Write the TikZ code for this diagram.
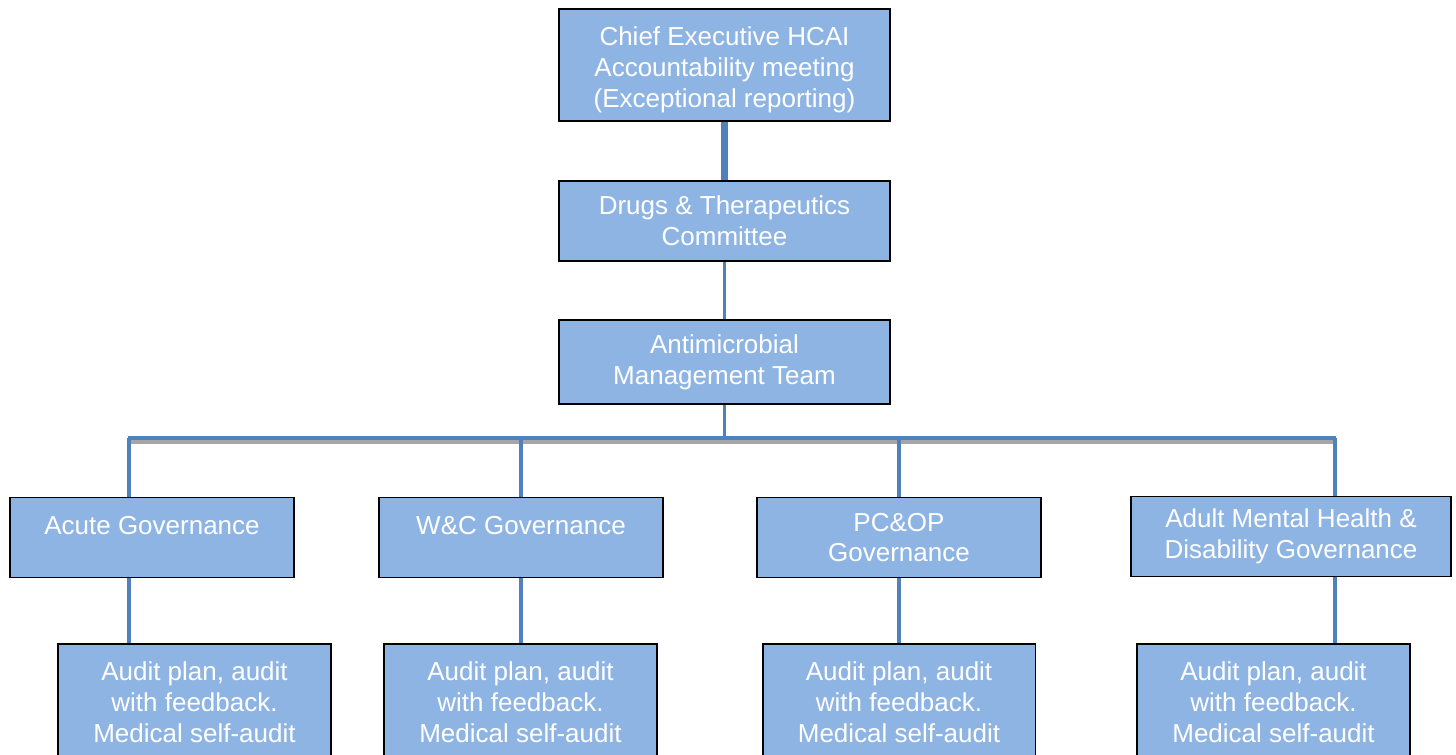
\documentclass[tikz,border=0pt]{standalone}
\usepackage{fontspec}
\setmainfont{Liberation Sans}
\usetikzlibrary{calc}
\definecolor{boxfill}{HTML}{8EB4E3}
\definecolor{linkblue}{HTML}{4F81BD}
\tikzset{
  orgbox/.style={draw=black, line width=1.1pt, fill=boxfill, text=white, align=center,
    font=\fontsize{14.8}{17.6}\selectfont, inner sep=0pt},
  govbox/.style={orgbox, minimum width=5.68cm, minimum height=1.6cm},
  auditbox/.style={orgbox, minimum width=5.46cm, minimum height=2.32cm},
  link/.style={draw=linkblue, line width=2.2pt},
}

\begin{document}
\begin{tikzpicture}[x=0.02cm,y=-0.02cm]
	\useasboundingbox (0,0) rectangle (1456,754);
	\clip (0,0) rectangle (1456,754);
	% chain at the top
	\node[orgbox, minimum width=6.62cm, minimum height=2.24cm] (ceo) at (724.5,65) {\rule{0pt}{16pt}Chief Executive HCAI\\Accountability meeting\\(Exceptional reporting)};
	\node[orgbox, minimum width=6.62cm, minimum height=1.6cm] (dtc) at (724.5,221) {Drugs \& Therapeutics\\Committee};
	\node[orgbox, minimum width=6.62cm, minimum height=1.68cm] (amt) at (724.5,362) {Antimicrobial\\Management Team};
	% governance row
	\node[govbox] (acute) at (152,537.5) {Acute Governance\\[-9pt]\strut};
	\node[govbox] (wc) at (521,537.5) {W\&C Governance\\[-9pt]\strut};
	\node[govbox] (pcop) at (899,537.5) {PC\&OP\\Governance};
	\node[govbox, minimum width=6.4cm] (amh) at (1291,536.5) {Adult Mental Health \&\\Disability Governance};
	% audit row
	\node[auditbox] (auditA) at (194.5,702) {Audit plan, audit\\with feedback.\\Medical self-audit};
	\node[auditbox] (auditB) at (520.5,702) {Audit plan, audit\\with feedback.\\Medical self-audit};
	\node[auditbox] (auditC) at (899,702) {Audit plan, audit\\with feedback.\\Medical self-audit};
	\node[auditbox] (auditD) at (1273.5,702) {Audit plan, audit\\with feedback.\\Medical self-audit};
	% connectors
	\coordinate (hub) at (724.5,438);
	\coordinate (busA) at (129,438);
	\coordinate (busB) at (521,438);
	\coordinate (busC) at (899,438);
	\coordinate (busD) at (1335,438);
	\draw[link, line width=4pt] (ceo) -- (dtc);
	\draw[link] (dtc) -- (amt);
	\draw[link] (amt) -- (hub);
	\draw[gray!70, line width=2.2pt] ($(busA)+(-1,4)$) -- ($(busD)+(1,4)$);
	\draw[link, line width=2.8pt] ($(busA)+(-1,0)$) -- ($(busD)+(1,0)$);
	\foreach \bus/\gov/\aud in {busA/acute/auditA, busB/wc/auditB, busC/pcop/auditC, busD/amh/auditD}{
		\draw[link] (\bus) -- (\bus |- \gov.north);
		\draw[link] (\bus |- \gov.south) -- (\bus |- \aud.north);
	}
\end{tikzpicture}
\end{document}
